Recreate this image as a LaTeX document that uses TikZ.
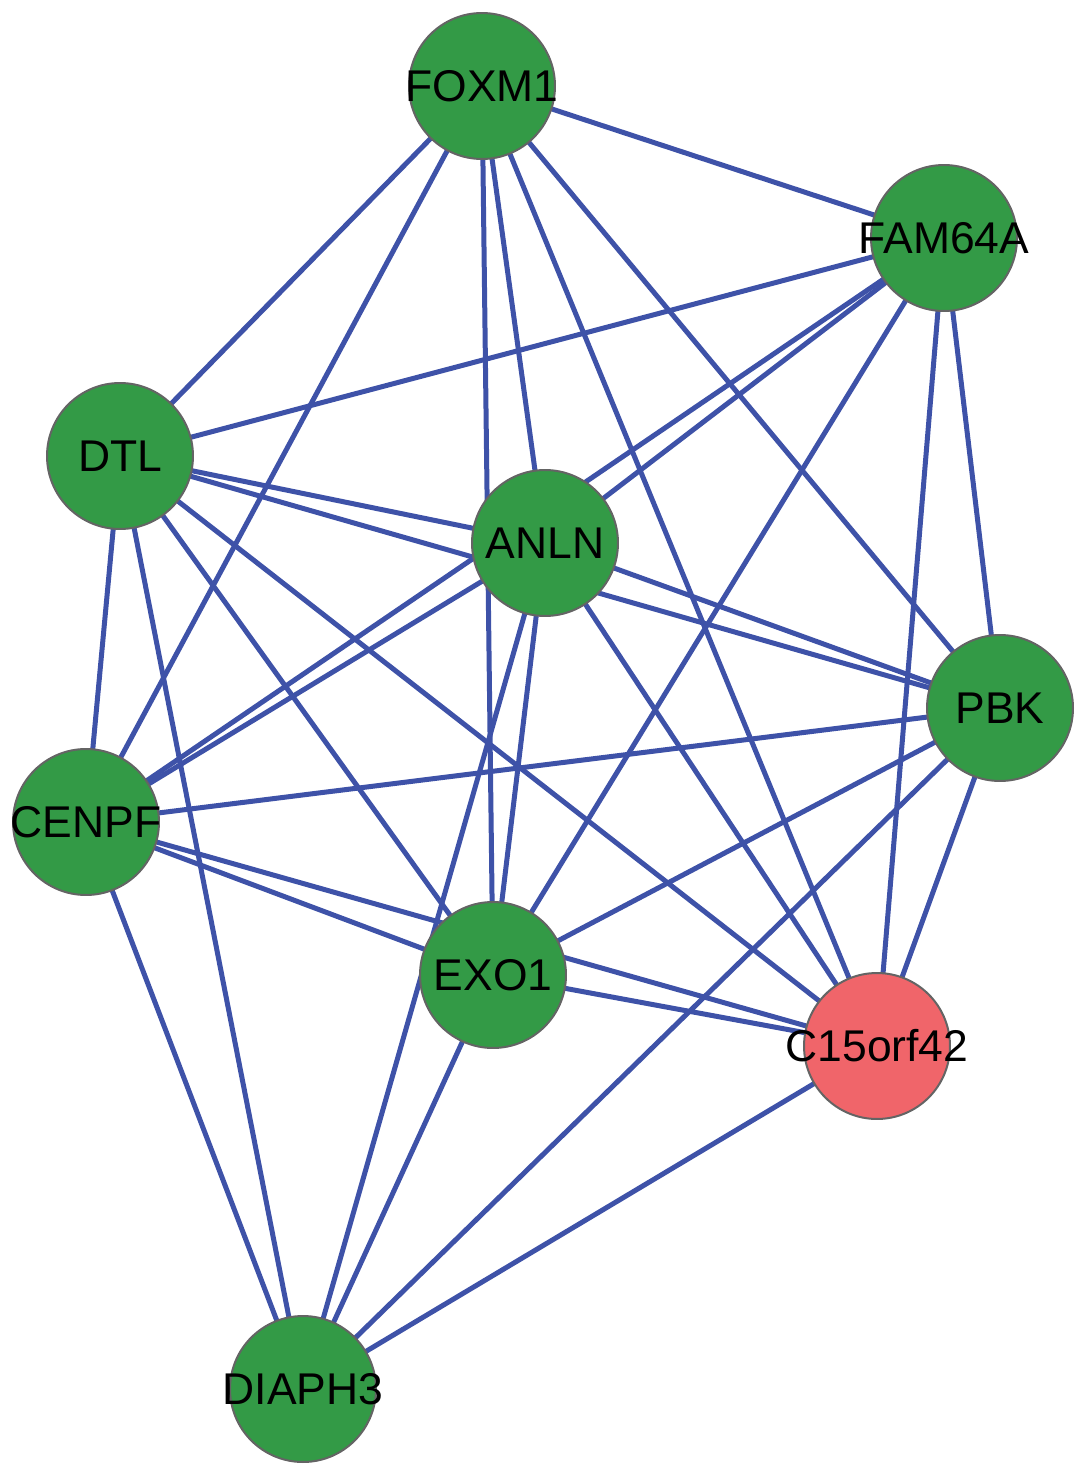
\documentclass[tikz,border=0pt]{standalone}
\usepackage{fontspec}
\setmainfont{Liberation Sans}
\usetikzlibrary{backgrounds}
\definecolor{genegreen}{RGB}{51,154,70}
\definecolor{genered}{RGB}{240,101,106}
\definecolor{edgeblue}{RGB}{62,82,168}
\definecolor{rimgray}{RGB}{100,100,100}
\begin{document}
\begin{tikzpicture}[x=0.02cm,y=-0.02cm,
  gene/.style={circle,draw=rimgray,line width=0.04cm,fill=genegreen,minimum size=2.92cm,inner sep=0pt,
    font=\fontsize{25.3}{30}\selectfont,
    execute at begin node={\hbox to 0pt\bgroup\hss},execute at end node={\hss\egroup}},
  link/.style={edgeblue,line width=0.1cm}]
\useasboundingbox (0,0) rectangle (1087,1476);
\node[gene] (foxm1) at (482, 86) {FOXM1};
\node[gene] (fam64a) at (944, 238) {FAM64A};
\node[gene] (dtl) at (120, 456) {DTL};
\node[gene] (anln) at (545, 543) {ANLN};
\node[gene] (pbk) at (1000, 708) {PBK};
\node[gene] (cenpf) at (86, 822) {CENPF};
\node[gene] (exo1) at (493, 975) {EXO1};
\node[gene,fill=genered] (c15orf42) at (877, 1046) {C15orf42};
\node[gene] (diaph3) at (303, 1389) {DIAPH3};
\begin{scope}[on background layer]
\draw[link] (foxm1.center) to (fam64a.center);
\draw[link] (foxm1.center) to (dtl.center);
\draw[link] (foxm1.center) to (cenpf.center);
\draw[link] (foxm1.center) to (anln.center);
\draw[link] (foxm1.center) to (exo1.center);
\draw[link] (foxm1.center) to (c15orf42.center);
\draw[link] (foxm1.center) to (pbk.center);
\draw[link] (fam64a.center) to (dtl.center);
\draw[link] (fam64a.center) to (anln.center);
\draw[link] (fam64a.center) to (cenpf.center);
\draw[link] (fam64a.center) to (exo1.center);
\draw[link] (fam64a.center) to (c15orf42.center);
\draw[link] (fam64a.center) to (pbk.center);
\draw[link] (dtl.center) to (anln.center);
\draw[link] (dtl.center) to (pbk.center);
\draw[link] (dtl.center) to (c15orf42.center);
\draw[link] (dtl.center) to (exo1.center);
\draw[link] (dtl.center) to (cenpf.center);
\draw[link] (dtl.center) to (diaph3.center);
\draw[link] (anln.center) to (cenpf.center);
\draw[link] (anln.center) to (exo1.center);
\draw[link] (anln.center) to (diaph3.center);
\draw[link] (anln.center) to (c15orf42.center);
\draw[link] (anln.center) to (pbk.center);
\draw[link] (pbk.center) to (cenpf.center);
\draw[link] (pbk.center) to (exo1.center);
\draw[link] (pbk.center) to (diaph3.center);
\draw[link] (pbk.center) to (c15orf42.center);
\draw[link] (cenpf.center) to (exo1.center);
\draw[link] (cenpf.center) to (c15orf42.center);
\draw[link] (cenpf.center) to (diaph3.center);
\draw[link] (exo1.center) to (diaph3.center);
\draw[link] (exo1.center) to (c15orf42.center);
\draw[link] (c15orf42.center) to (diaph3.center);
\end{scope}
\end{tikzpicture}
\end{document}
